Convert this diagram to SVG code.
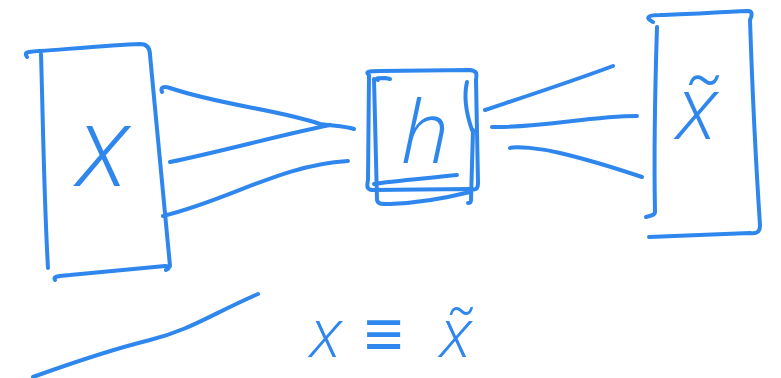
<svg xmlns="http://www.w3.org/2000/svg" width="781" height="378" viewBox="0 0 781 378">
<style>
.s{fill:none;stroke:#2f87ee;stroke-width:4;stroke-linecap:round;stroke-linejoin:round}
.t{fill:#2f87ee;font-family:"Open Sans","Liberation Sans",sans-serif;font-style:italic;font-weight:300}
</style>
<rect width="781" height="378" fill="#fff"/>
<g id="node-x">
<path class="s" d="M27,57 C24,52 26,52 40,51 C80,48 115,45 140,44 C147,44 150,48 150,55 L170,266"/>
<path class="s" d="M41,54 C43,120 44,200 48,268"/>
<path class="s" d="M55,280 C53,277 56,276 70,275 L165,266 C170,266 170,268 166,270"/>
<text class="t" x="103" y="186" font-size="112" text-anchor="middle">x</text>
</g>
<g id="node-h">
<path class="s" d="M369,75 C365,72 368,71 380,71 L470,70 C477,71 477,73 476,80 L478,183 C478,190 475,190 470,189 L372,190 C366,189 367,185 368,180 Z"/>
<path class="s" d="M378,80 C375,78 378,78 385,78 L390,79 M374,79 L377,200 C378,204 380,204 390,204 C420,203 450,197 470,192 M473,130 L471,200 C471,203 470,203 468,203"/>
<path class="s" d="M374,184 C390,181 430,178 457,175"/>
<path class="s" d="M467,82 C464,95 465,110 472,130"/>
<text class="t" x="425" y="163" font-size="86" text-anchor="middle">h</text>
</g>
<g id="node-xt">
<path class="s" d="M653,22 C645,18 647,15 660,15 C690,14 720,12 748,11 C753,11 752,16 750,20 C752,80 755,150 760,225 C760,232 757,234 750,233 L649,237"/>
<path class="s" d="M657,27 C655,90 654,160 655,212 C655,215 650,216 646,217"/>
<text class="t" x="697" y="139" font-size="88" text-anchor="middle">x̃</text>
</g>
<g id="connectors">
<path class="s" d="M162,92 C160,87 164,86 170,88 C220,105 280,110 320,124 C335,126 345,126 354,129"/>
<path class="s" d="M170,162 C220,152 280,135 330,125"/>
<path class="s" d="M163,216 C230,200 280,165 348,161"/>
<path class="s" d="M485,110 C530,95 570,82 613,66"/>
<path class="s" d="M492,127 C540,128 590,116 637,116"/>
<path class="s" d="M510,148 C515,146 540,148 560,153 C590,160 615,168 642,177"/>
</g>
<g id="bottom">
<path class="s" d="M33,377 C80,360 110,350 150,340 C190,330 210,315 258,294"/>
<text class="t" y="357" font-size="68"><tspan x="310">x </tspan><tspan x="364">≡ </tspan><tspan x="440">x̃</tspan></text>
</g>
</svg>
